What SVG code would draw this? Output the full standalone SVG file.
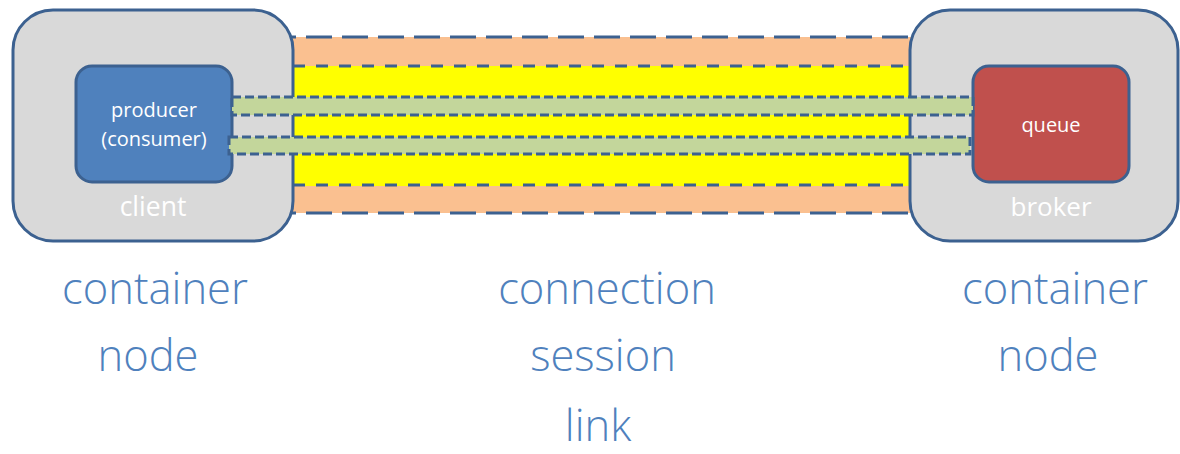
<svg xmlns="http://www.w3.org/2000/svg" width="1180" height="454" viewBox="0 0 1180 454">
<style>
.cont{fill:#d9d9d9;stroke:#3c6190;stroke-width:3}
.band{stroke:#3c6190;stroke-width:3}
.lnk{fill:#c3d69b;stroke:#3c6190;stroke-width:3;stroke-dasharray:9 4}
.in{fill:#ffffff;font-family:"Segoe UI","Open Sans","DejaVu Sans",sans-serif;text-anchor:middle}
.lbl{fill:#4f81bd;font-family:"Segoe UI","Open Sans","DejaVu Sans",sans-serif;font-weight:300;font-size:43.5px;text-anchor:middle}
</style>
<rect width="1180" height="454" fill="#ffffff"/>
<g id="connection">
<rect x="270" y="37" width="660" height="176" fill="#fac090"/>
<line class="band" x1="270" y1="37" x2="930" y2="37" stroke-dasharray="26 10"/>
<line class="band" x1="270" y1="213" x2="930" y2="213" stroke-dasharray="26 10"/>
</g>
<g id="session">
<rect x="270" y="66" width="660" height="120" fill="#ffff00"/>
<line class="band" x1="270" y1="66" x2="930" y2="66" stroke-dasharray="12 11"/>
<line class="band" x1="270" y1="185" x2="930" y2="185" stroke-dasharray="12 11"/>
</g>
<g id="client">
<rect class="cont" x="13" y="10" width="280" height="231" rx="40" ry="40"/>
<text class="in" x="153" y="216" font-size="26.5">client</text>
</g>
<g id="broker">
<rect class="cont" x="910" y="10" width="268" height="231" rx="40" ry="40"/>
<text class="in" x="1051" y="216" font-size="26">broker</text>
</g>
<g id="producer">
<rect x="76" y="66" width="156" height="116" rx="16" ry="16" fill="#4f81bd" stroke="#3c6190" stroke-width="3"/>
<text class="in" x="154" y="117" font-size="20">producer</text>
<text class="in" x="154" y="146" font-size="20">(consumer)</text>
</g>
<g id="queue">
<rect x="973" y="66" width="156" height="116" rx="16" ry="16" fill="#c0504d" stroke="#3c6190" stroke-width="3"/>
<text class="in" x="1051" y="132" font-size="20">queue</text>
</g>
<g id="connectors">
<rect class="lnk" x="232" y="97" width="741" height="18"/>
<rect class="lnk" x="229" y="137" width="741" height="17"/>
</g>
<g id="labels">
<text class="lbl" x="155" y="304">container</text>
<text class="lbl" x="148" y="371">node</text>
<text class="lbl" x="607" y="304">connection</text>
<text class="lbl" x="603" y="371">session</text>
<text class="lbl" x="598" y="441">link</text>
<text class="lbl" x="1055" y="304">container</text>
<text class="lbl" x="1048" y="371">node</text>
</g>
</svg>
